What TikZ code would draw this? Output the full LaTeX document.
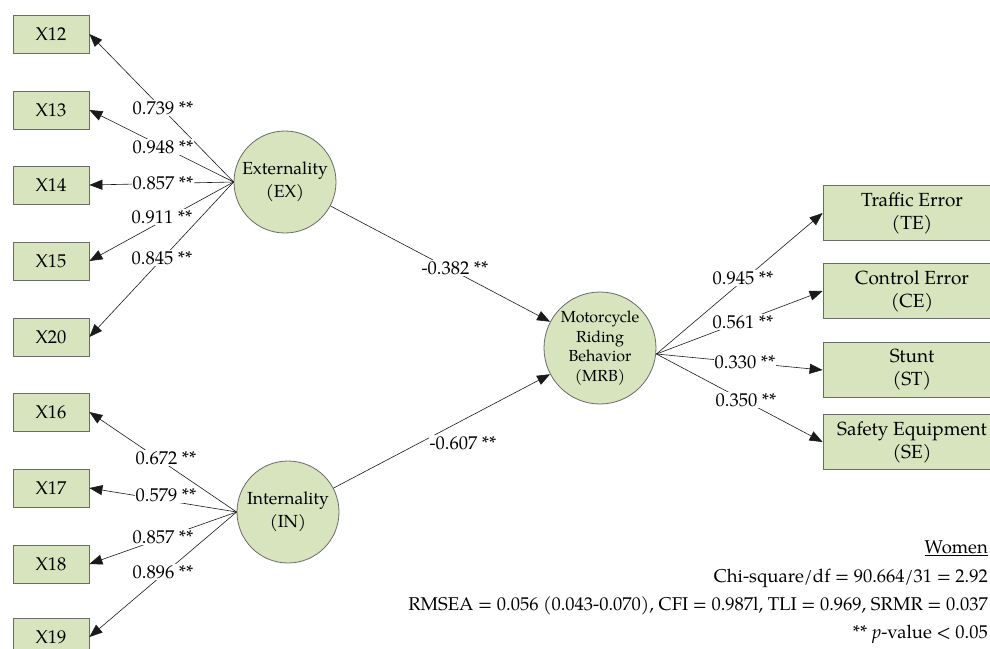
\documentclass[tikz,border=0pt]{standalone}
\usepackage{fontspec}
\setmainfont{TeX Gyre Pagella}
\usetikzlibrary{arrows.meta}
\definecolor{boxfill}{HTML}{D7E4BD}
\definecolor{boxline}{HTML}{6B6B6B}
\definecolor{linec}{HTML}{1A1A1A}
\begin{document}
\begin{tikzpicture}[x=1pt,y=-1pt,
 txt/.style={font=\fontsize{18.5}{23}\selectfont},
 box/.style={draw=boxline, fill=boxfill, line width=0.8pt, minimum width=76pt, minimum height=38pt, inner sep=0pt, txt},
 bigbox/.style={box, minimum width=178pt, minimum height=55pt, align=center, font=\fontsize{19}{23}\selectfont},
 lat/.style={circle, draw=boxline, fill=boxfill, line width=0.8pt, minimum size=102pt, align=center, inner sep=0pt, font=\fontsize{17.5}{23}\selectfont},
 con/.style={draw=linec, line width=0.6pt, -{Triangle[length=13pt,width=10pt]}},
 lab/.style={fill=white, inner sep=1pt, txt},
 note/.style={anchor=east, inner sep=0pt, txt}
]
\useasboundingbox (0,0) rectangle (990,648);
\fill[white] (0,0) rectangle (990,648);
\begin{scope}
\clip (0,0) rectangle (990,648);
% left indicator boxes
\node[box] (X12) at (51,34) {X12};
\node[box] (X13) at (51,110) {X13};
\node[box] (X14) at (51,185) {X14};
\node[box] (X15) at (51,261) {X15};
\node[box] (X20) at (51,337) {X20};
\node[box] (X16) at (51,412) {X16};
\node[box] (X17) at (51,488) {X17};
\node[box] (X18) at (51,564) {X18};
\node[box] (X19) at (51,637) {X19};
% latent variables
\node[lat] (EX) at (285,182) {Externality\\(EX)};
\node[lat] (IN) at (288,512) {Internality\\(IN)};
\node[lat, minimum size=112pt, font=\fontsize{16}{19.5}\selectfont] (MRB) at (600,348) {Motorcycle\\Riding\\Behavior\\(MRB)};
% right boxes
\node[bigbox] (TE) at (912,213) {Traffic Error\\(TE)};
\node[bigbox] (CE) at (912,291) {Control Error\\(CE)};
\node[bigbox] (ST) at (912,370) {Stunt\\(ST)};
\node[bigbox] (SE) at (912,442) {Safety Equipment\\(SE)};
% connectors
\foreach \b in {X12,X13,X14,X15,X20} \draw[con] (EX.west) -- (\b.east);
\foreach \b in {X16,X17,X18,X19} \draw[con] (IN.west) -- (\b.east);
\draw[con] (EX) -- (MRB);
\draw[con] (IN) -- (MRB);
\coordinate (mo) at ([yshift=-6pt]MRB.east);
\foreach \b in {TE,CE,ST,SE} \draw[con] (mo) -- (\b.west);
% labels
\node[lab] (l12) at (163,108) {0.739 **};
\node[lab] (l13) at (163,147) {0.948 **};
\node[lab] (l14) at (163,183) {0.857 **};
\node[lab] (l15) at (162,217) {0.911 **};
\node[lab] (l20) at (162,258) {0.845 **};
\node[lab] (l16) at (166,458) {0.672 **};
\node[lab] (l17) at (166,495) {0.579 **};
\node[lab] (l18) at (163,537) {0.857 **};
\node[lab] (l19) at (163,572) {0.896 **};
\node[lab] (lex) at (455,268) {-0.382 **};
\node[lab] (lin) at (463,443) {-0.607 **};
\node[lab] (lte) at (743,278) {0.945 **};
\node[lab] (lce) at (743,322) {0.561 **};
\node[lab] (lst) at (745,362) {0.330 **};
\node[lab] (lse) at (746,400) {0.350 **};
% fit statistics
\node[note] (w) at (988,548) {\underline{Women}};
\node[note] (chi) at (988,578) {Chi-square/df = 90.664/31 = 2.92};
\node[note] (rm) at (988,606) {RMSEA = 0.056 (0.043-0.070), CFI = 0.987l, TLI = 0.969, SRMR = 0.037};
\node[note] (pv) at (988,634) {** \textit{p}-value < 0.05};
\end{scope}
\end{tikzpicture}
\end{document}
